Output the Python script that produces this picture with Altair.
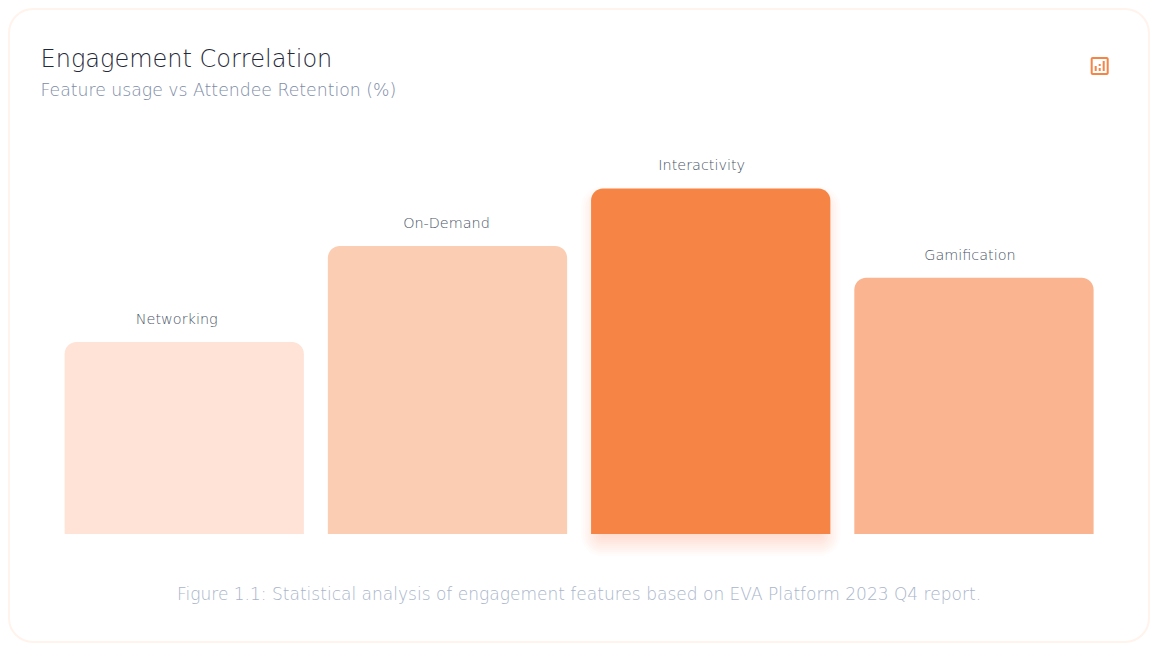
import altair as alt
import pandas as pd

categories = ["Networking", "On-Demand", "Interactivity", "Gamification"]
values = [50, 75, 90, 66.7]
colors = ["#FEE3D6", "#FBCDB2", "#F68445", "#FAB48F"]
label_shift = [-7.5, -1, -9, -4]
title_text = "Engagement Correlation"
subtitle_text = "Feature usage vs Attendee Retention (%)"
caption_text = "Figure 1.1: Statistical analysis of engagement features based on EVA Platform 2023 Q4 report."

FONT = "DejaVu Sans"
W, H = 1142, 635

df = pd.DataFrame({"cat": categories, "val": values, "col": colors})

x_scale = alt.Scale(domain=categories, range=[56.6, 1085.6], paddingInner=0.091, paddingOuter=0, round=False)
x = alt.X("cat:N", sort=categories, axis=None, scale=x_scale)
y = alt.Y("val:Q", axis=None, scale=alt.Scale(domain=[0, 100], range=[526, 142]))
y0 = alt.Y2(datum=0)

base = alt.Chart(df)
anchor = alt.Chart(pd.DataFrame({"t": [""]}))


def label(text, px, py, size, color, align="left"):
    d = alt.Chart(pd.DataFrame({"t": [text]}))
    return d.mark_text(font=FONT, fontWeight=200, fontSize=size, color=color, align=align,
                       baseline="alphabetic").encode(x=alt.value(px), y=alt.value(py), text="t:N")


card = anchor.mark_rect(fill="white", stroke="#FFF3EC", strokeWidth=2, cornerRadius=24).encode(
    x=alt.value(1), x2=alt.value(W - 1), y=alt.value(1), y2=alt.value(H - 1))

layers = [card]

# soft glow beneath the highlighted bar
N = 16
for i in range(N):
    d = -15 + 30 * i / (N - 1)
    layers.append(
        base.transform_filter(alt.datum.cat == "Interactivity")
        .mark_bar(color="#F6784A", opacity=0.018, width=229 + 2 * d, cornerRadius=max(3, 6 + d),
                  yOffset=13 - d, y2Offset=7 + d)
        .encode(x=x, y=y, y2=y0)
    )

layers.append(
    base.mark_bar(cornerRadiusTopLeft=12, cornerRadiusTopRight=12)
    .encode(x=x, y=y, y2=y0, color=alt.Color("col:N", scale=None, legend=None))
)

for cat, shift in zip(categories, label_shift):
    layers.append(
        base.transform_filter(alt.datum.cat == cat)
        .mark_text(font=FONT, fontWeight=200, fontSize=14.4, color="#4A5568", dx=shift, dy=-18,
                   baseline="alphabetic")
        .encode(x=alt.X("cat:N", sort=categories, axis=None, scale=x_scale, bandPosition=0.5),
                y=y, text="cat:N")
    )

layers += [
    label(title_text, 32.5, 59, 24, "#1F2937"),
    label(subtitle_text, 32.5, 88, 17.3, "#7C8BA6"),
    label(caption_text, 571, 592, 17.05, "#A9B5CA", "center"),
]

icon = ("M.778 -1H-.778C-.9 -1 -1 -.9 -1 -.778V.778C-1 .9 -.9 1 -.778 1H.778C.9 1 1 .9 1 .778V-.778C1 -.9 .9 -1 .778 -1Z"
        "M.778 .778H-.778V-.778H.778Z"
        "M-.333 .556H-.556V0H-.333Z"
        "M.111 .556H-.111V.222H.111Z"
        "M.111 0H-.111V-.222H.111Z"
        "M.556 .556H.333V-.556H.556Z")
layers.append(
    anchor.mark_point(shape=icon, size=324, filled=True, color="#F68445", opacity=1, strokeWidth=0).encode(
        x=alt.value(1091.7), y=alt.value(58))
)

chart = alt.layer(*layers).resolve_scale(color="independent").properties(
    width=W, height=H, padding=0,
    autosize=alt.AutoSizeParams(type="fit", contains="padding"),
    background="white",
).configure_view(stroke=None)

chart.save("out.html", embed_options={"renderer": "svg", "actions": False})
